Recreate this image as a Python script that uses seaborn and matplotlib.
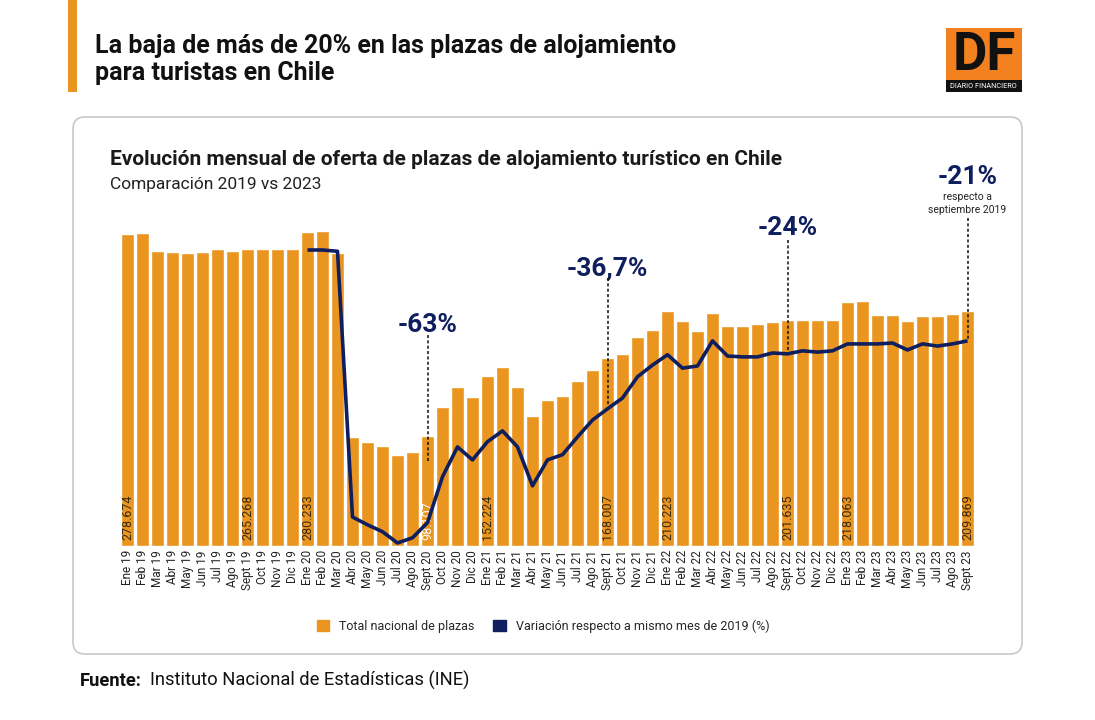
import numpy as np
import pandas as pd
import seaborn as sns
import matplotlib.pyplot as plt
import matplotlib.patches as mpatches
import matplotlib.transforms as mtransforms

# datos
meses = [
    "Ene 19", "Feb 19", "Mar 19", "Abr 19", "May 19", "Jun 19", "Jul 19", "Ago 19", "Sept 19", "Oct 19", "Nov 19", "Dic 19",
    "Ene 20", "Feb 20", "Mar 20", "Abr 20", "May 20", "Jun 20", "Jul 20", "Ago 20", "Sept 20", "Oct 20", "Nov 20", "Dic 20",
    "Ene 21", "Feb 21", "Mar 21", "Abr 21", "May 21", "Jun 21", "Jul 21", "Ago 21", "Sept 21", "Oct 21", "Nov 21", "Dic 21",
    "Ene 22", "Feb 22", "Mar 22", "Abr 22", "May 22", "Jun 22", "Jul 22", "Ago 22", "Sept 22", "Oct 22", "Nov 22", "Dic 22",
    "Ene 23", "Feb 23", "Mar 23", "Abr 23", "May 23", "Jun 23", "Jul 23", "Ago 23", "Sept 23",
]
plazas = [
    278674, 279500, 263500, 262600, 261700, 262600, 265000, 263500, 265268, 265300, 265300, 265300,
    280233, 281000, 262000, 97000, 93000, 89300, 81300, 84000, 98107, 124000, 142000, 133000,
    152224, 160000, 142000, 116000, 130400, 134000, 147000, 157000, 168007, 171500, 186700, 193000,
    210223, 201000, 192000, 208000, 196500, 196500, 198000, 200000, 201635, 202000, 202000, 202000,
    218063, 218500, 206000, 206000, 201000, 205000, 205000, 207000, 209869,
]
# variacion (%) respecto a mismo mes de 2019, desde Ene 20
variacion = [
    0.0, 0.0, -0.3, -61.7, -63.5, -65.1, -67.7, -66.5, -63.0, -52.4, -45.5, -48.5,
    -44.3, -41.8, -45.5, -54.5, -48.5, -47.3, -43.2, -39.3, -36.7, -34.2, -29.3, -26.6,
    -24.2, -27.3, -26.8, -21.0, -24.5, -24.7, -24.7, -23.8, -24.0, -23.3, -23.6, -23.3,
    -21.7, -21.7, -21.7, -21.5, -23.1, -21.7, -22.2, -21.7, -21.0,
]
meses_etiqueta = ["Ene 19", "Sept 19", "Ene 20", "Sept 20", "Ene 21", "Sept 21", "Ene 22", "Sept 22", "Ene 23", "Sept 23"]
notas = {"Sept 20": "-63%", "Sept 21": "-36,7%", "Sept 22": "-24%", "Sept 23": "-21%"}

NARANJO = "#E9951F"
AZUL = "#0F1E5E"
W, H = 1095, 720

df = pd.DataFrame({"mes": meses, "plazas": plazas})
df["variacion"] = [np.nan] * (len(meses) - len(variacion)) + variacion

sns.set_theme(style="white")
plt.rcParams["font.family"] = ["Roboto", "DejaVu Sans"]

fig = plt.figure(figsize=(W / 100, H / 100), dpi=100)
fig.patch.set_facecolor("white")

# tarjeta
card = mpatches.FancyBboxPatch((73, H - 654), 949, 537, boxstyle="round,pad=0,rounding_size=12",
                               transform=mtransforms.IdentityTransform(), facecolor="white",
                               edgecolor="#c8c8c8", linewidth=1.2, zorder=0)
fig.add_artist(card)

# barra titular
fig.add_artist(mpatches.Rectangle((68 / W, 1 - 92 / H), 9 / W, 92 / H, transform=fig.transFigure,
                                  color=NARANJO, lw=0))
fig.text(95 / W, 1 - 53 / H, "La baja de más de 20% en las plazas de alojamiento", fontsize=18,
         fontweight="bold", color="#111111", va="baseline")
fig.text(95 / W, 1 - 80 / H, "para turistas en Chile", fontsize=18,
         fontweight="bold", color="#111111", va="baseline")

# logo DF
fig.add_artist(mpatches.Rectangle((946 / W, 1 - 92 / H), 76 / W, 64 / H, transform=fig.transFigure,
                                  color="#F4811F", lw=0))
fig.add_artist(mpatches.Rectangle((946 / W, 1 - 92 / H), 76 / W, 12 / H, transform=fig.transFigure,
                                  color="#111111", lw=0))
fig.text(984 / W, 1 - 56 / H, "DF", fontsize=38, fontweight="bold", color="#111111",
         ha="center", va="center")
fig.text(983 / W, 1 - 86 / H, "DIARIO FINANCIERO", fontsize=5.3, color="white", ha="center", va="center")

# titulos del grafico
fig.text(110 / W, 1 - 165 / H, "Evolución mensual de oferta de plazas de alojamiento turístico en Chile",
         fontsize=15, fontweight="bold", color="#1a1a1a", va="baseline")
fig.text(110 / W, 1 - 189 / H, "Comparación 2019 vs 2023", fontsize=12.5, color="#222222", va="baseline")

# ejes
ax = fig.add_axes([120 / W, 1 - 546 / H, 855 / W, 336 / H])
sns.barplot(data=df, x="mes", y="plazas", color=NARANJO, saturation=1, width=0.87, ax=ax)
ax.set_xlim(-0.5, len(meses) - 0.5)
ax.set_ylim(0, 300000)
ax.set_xlabel("")
ax.set_ylabel("")
ax.set_yticks([])
ax.tick_params(axis="x", length=0, pad=3, labelsize=8.5, labelcolor="#222222", rotation=90)
sns.despine(ax=ax, left=True, bottom=True)

for m in meses_etiqueta:
    i = meses.index(m)
    txt = f"{plazas[i]:,}".replace(",", ".")
    ax.annotate(txt, xy=(i, 0), xytext=(0, 4), textcoords="offset points", rotation=90,
                ha="center", va="bottom", fontsize=9,
                color="white" if m == "Sept 20" else "#3a2a10")

ax2 = ax.twinx()
d2 = df.dropna()
sns.lineplot(x=d2.index, y=d2["variacion"], ax=ax2, color=AZUL, linewidth=2.6,
             solid_joinstyle="round", solid_capstyle="butt")
ax2.set_ylim(-68.4, 9.24)
ax2.set_yticks([])
ax2.set_ylabel("")
sns.despine(ax=ax2, left=True, bottom=True, right=True)

# notas
blend = mtransforms.blended_transform_factory(ax.transData, fig.transFigure)
pos_notas = {"Sept 20": (325, 335, 463), "Sept 21": (268, 278, 405),
             "Sept 22": (228, 240, 353), "Sept 23": (177, 218, 341)}
for m, lab in notas.items():
    i = meses.index(m)
    ty, y1, y2 = pos_notas[m]
    ax.text(i, 1 - ty / H, lab, transform=blend, ha="center", va="center", fontsize=19,
            fontweight="bold", color=AZUL, clip_on=False)
    ax.plot([i, i], [1 - y1 / H, 1 - y2 / H], transform=blend, color="#111111", lw=1.1,
            ls=(0, (2, 1.5)), clip_on=False, zorder=5)
i = meses.index("Sept 23")
ax.text(i, 1 - 197 / H, "respecto a", transform=blend, ha="center", va="center", fontsize=7.5,
        color="#222222", clip_on=False)
ax.text(i, 1 - 210 / H, "septiembre 2019", transform=blend, ha="center", va="center", fontsize=7.5,
        color="#222222", clip_on=False)

# leyenda
handles = [mpatches.Patch(color=NARANJO, label="Total nacional de plazas"),
           mpatches.Patch(color=AZUL, label="Variación respecto a mismo mes de 2019 (%)")]
fig.legend(handles=handles, loc="center", bbox_to_anchor=(543 / W, 1 - 626 / H), ncol=2, frameon=False,
           fontsize=9, handlelength=1.0, handleheight=1.0, columnspacing=1.5, handletextpad=0.8)

# fuente
fig.text(80 / W, 1 - 686 / H, "Fuente:", fontsize=13.2, fontweight="bold", color="#111111", va="baseline")
fig.text(150 / W, 1 - 686 / H, "Instituto Nacional de Estadísticas (INE)", fontsize=13.2,
         color="#111111", va="baseline")

fig.savefig("out.png", dpi=100)
